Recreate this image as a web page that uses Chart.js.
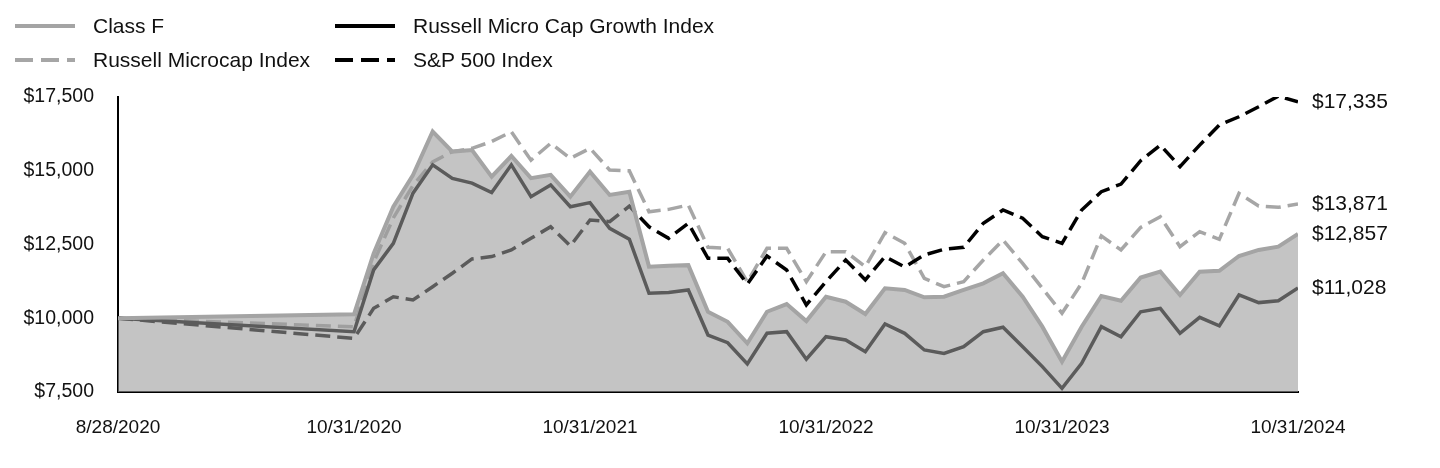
<!DOCTYPE html>
<html>
<head>
<meta charset="utf-8">
<script src="https://cdn.jsdelivr.net/npm/chart.js@4.4.1/dist/chart.umd.min.js"></script>
<style>
  html, body { margin: 0; padding: 0; background: #fff; }
  #wrap { position: relative; width: 1440px; height: 468px; overflow: hidden; }
  #c { position: absolute; left: 0; top: 0; }
  .lg { position: absolute; font-family: "Liberation Sans", Arial, sans-serif; font-size: 21px; color: #111; line-height: 24px; white-space: nowrap; }
  .sw { position: absolute; }
</style>
</head>
<body>
<div id="wrap">
  <canvas id="c" width="1440" height="468"></canvas>
  <div id="legend"></div>
</div>
<script>
// ---- data ----
const dates = ['8/28/2020','10/31/2020',
  '11/30/2020','12/31/2020','1/31/2021','2/28/2021','3/31/2021','4/30/2021','5/31/2021','6/30/2021','7/31/2021','8/31/2021','9/30/2021','10/31/2021',
  '11/30/2021','12/31/2021','1/31/2022','2/28/2022','3/31/2022','4/30/2022','5/31/2022','6/30/2022','7/31/2022','8/31/2022','9/30/2022','10/31/2022',
  '11/30/2022','12/31/2022','1/31/2023','2/28/2023','3/31/2023','4/30/2023','5/31/2023','6/30/2023','7/31/2023','8/31/2023','9/30/2023','10/31/2023',
  '11/30/2023','12/31/2023','1/31/2024','2/29/2024','3/31/2024','4/30/2024','5/31/2024','6/30/2024','7/31/2024','8/31/2024','9/30/2024','10/31/2024'];

const tickLabels = ['8/28/2020','10/31/2020','10/31/2021','10/31/2022','10/31/2023','10/31/2024'];

const classF = [10000,10134,12200,13780,14850,16330,15650,15700,14800,15500,14750,14860,14120,14970,
  14180,14290,11750,11780,11800,10220,9880,9150,10220,10480,9905,10730,
  10560,10145,11015,10960,10710,10730,10960,11185,11525,10730,9715,8530,
  9715,10755,10595,11380,11580,10790,11580,11610,12110,12315,12425,12857];

const microGrowth = [10000,9544,11640,12540,14240,15200,14740,14580,14260,15200,14120,14520,13780,13920,
  13050,12680,10845,10870,10960,9430,9170,8450,9490,9545,8610,9375,
  9265,8865,9805,9490,8925,8810,9035,9545,9695,9035,8360,7625,
  8470,9715,9375,10220,10335,9490,10030,9740,10790,10530,10595,11028];

const microcap = [10000,9710,11900,13400,14500,15300,15650,15760,15990,16320,15360,15930,15420,15760,
  15025,15000,13610,13690,13840,12405,12370,11240,12370,12370,11240,12255,
  12255,11750,12900,12540,11355,11070,11240,11975,12650,11860,11015,10170,
  11185,12790,12315,13080,13440,12425,12935,12675,14235,13805,13760,13871];

const sp500 = [10000,9320,10335,10730,10620,11070,11525,12010,12090,12315,12710,13100,12450,13330,
  13275,13800,13100,12710,13220,12030,12030,11160,12110,11635,10450,11240,
  11975,11300,12090,11740,12145,12335,12405,13220,13670,13390,12765,12540,
  13670,14290,14550,15340,15870,15140,15870,16550,16830,17170,17530,17335];

const seriesNames = ['Class F','Russell Micro Cap Growth Index','Russell Microcap Index','S&P 500 Index'];

// ---- x positions: inception point spaced one year-width before 10/31/2020, monthly afterwards ----
function monthIndex(d) { const p = d.split('/'); return (+p[2]) * 12 + (+p[0]); }
const base = monthIndex('10/31/2020');
const xPos = dates.map((d, i) => i === 0 ? 0 : 12 + (monthIndex(d) - base));
const tickPos = tickLabels.map(t => xPos[dates.indexOf(t)]);
const pts = arr => arr.map((v, i) => ({ x: xPos[i], y: v }));

const FONT = '"Liberation Sans", Arial, sans-serif';
const money = v => '$' + Math.round(v).toLocaleString('en-US');

const endLabels = {
  id: 'endLabels',
  afterDatasetsDraw(chart) {
    const { ctx, scales } = chart;
    ctx.save();
    ctx.font = '21px ' + FONT;
    ctx.fillStyle = '#111';
    ctx.textAlign = 'left';
    ctx.textBaseline = 'middle';
    chart.data.datasets.forEach(ds => {
      const last = ds.data[ds.data.length - 1];
      ctx.fillText(money(last.y), scales.x.getPixelForValue(last.x) + 14, scales.y.getPixelForValue(last.y));
    });
    ctx.restore();
  }
};

new Chart(document.getElementById('c'), {
  type: 'line',
  data: {
    datasets: [
      { label: seriesNames[0], data: pts(classF), order: 0, borderColor: '#a4a4a4', borderWidth: 4,
        backgroundColor: 'rgba(155,155,155,0.59)', fill: 'start' },
      { label: seriesNames[1], data: pts(microGrowth), order: 1, borderColor: '#000', borderWidth: 3.5, fill: false },
      { label: seriesNames[2], data: pts(microcap), order: 3, borderColor: '#a6a6a6', borderWidth: 3.5, borderDash: [15, 7], fill: false },
      { label: seriesNames[3], data: pts(sp500), order: 2, borderColor: '#000', borderWidth: 3.5, borderDash: [15, 7], fill: false }
    ]
  },
  options: {
    responsive: false,
    animation: false,
    events: [],
    elements: { point: { radius: 0 }, line: { tension: 0, borderJoinStyle: 'miter', borderCapStyle: 'butt' } },
    layout: { padding: { left: 0, right: 142, top: 97, bottom: 0 } },
    plugins: { legend: { display: false }, tooltip: { enabled: false } },
    scales: {
      x: {
        type: 'linear', min: 0, max: xPos[xPos.length - 1],
        grid: { display: false, drawTicks: false },
        border: { display: true, color: '#000', width: 2 },
        afterBuildTicks: s => { s.ticks = tickPos.map(v => ({ value: v })); },
        afterFit: s => { s.height = 76; },
        ticks: {
          autoSkip: false, maxRotation: 0, padding: 24, color: '#111',
          font: { family: FONT, size: 19 },
          callback: v => tickLabels[tickPos.indexOf(v)]
        }
      },
      y: {
        min: 7500, max: 17500,
        grid: { display: false, drawTicks: false },
        border: { display: true, color: '#000', width: 2 },
        afterFit: s => { s.width = 118; },
        ticks: { stepSize: 2500, padding: 24, color: '#111', font: { family: FONT, size: 19.5 }, callback: v => money(v) }
      }
    }
  },
  plugins: [endLabels]
});

// ---- HTML legend (two columns) ----
const legendItems = [
  { name: seriesNames[0], color: '#a4a4a4', dash: null, x: 15, y: 26 },
  { name: seriesNames[2], color: '#a6a6a6', dash: '18 8', x: 15, y: 60 },
  { name: seriesNames[1], color: '#000', dash: null, x: 335, y: 26 },
  { name: seriesNames[3], color: '#000', dash: '18 8', x: 335, y: 60 }
];
const lg = document.getElementById('legend');
legendItems.forEach(it => {
  const svg = document.createElementNS('http://www.w3.org/2000/svg', 'svg');
  svg.setAttribute('width', '60'); svg.setAttribute('height', '8');
  svg.setAttribute('class', 'sw');
  svg.style.left = it.x + 'px'; svg.style.top = (it.y - 4) + 'px';
  const ln = document.createElementNS('http://www.w3.org/2000/svg', 'line');
  ln.setAttribute('x1', '0'); ln.setAttribute('x2', '60'); ln.setAttribute('y1', '4'); ln.setAttribute('y2', '4');
  ln.setAttribute('stroke', it.color); ln.setAttribute('stroke-width', '4');
  if (it.dash) ln.setAttribute('stroke-dasharray', it.dash);
  svg.appendChild(ln);
  lg.appendChild(svg);
  const t = document.createElement('div');
  t.className = 'lg';
  t.textContent = it.name;
  t.style.left = (it.x + 78) + 'px';
  t.style.top = (it.y - 12) + 'px';
  lg.appendChild(t);
});
</script>
</body>
</html>
